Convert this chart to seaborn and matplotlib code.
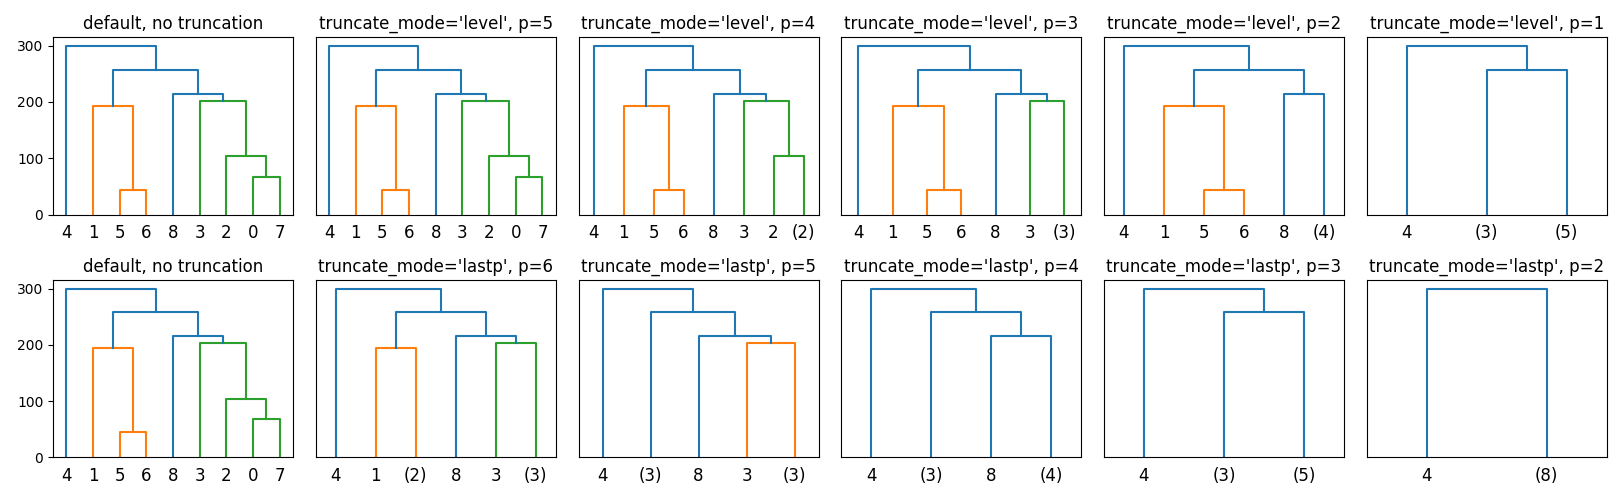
import numpy as np
import matplotlib
matplotlib.use("Agg")
import matplotlib.pyplot as plt
import seaborn as sns

n_obs = 9
merge_left = [5, 0, 2, 1, 3, 8, 12, 4]
merge_right = [6, 7, 10, 9, 11, 13, 14, 15]
merge_height = [44.4, 67.5, 103.5, 193.5, 202.4, 214.8, 257.4, 300.0]

top_modes = [None, 'level', 'level', 'level', 'level', 'level']
top_ps = [0, 5, 4, 3, 2, 1]
bottom_modes = [None, 'lastp', 'lastp', 'lastp', 'lastp', 'lastp']
bottom_ps = [0, 6, 5, 4, 3, 2]

palette = sns.color_palette("tab10")
above_color = palette[0]
cluster_colors = palette[1:]
threshold = 0.7 * max(merge_height)


def count_of(i):
    if i < n_obs:
        return 1
    return count_of(merge_left[i - n_obs]) + count_of(merge_right[i - n_obs])


def build(mode, p):
    leaves, links = [], []
    state = {"color": 0, "below": False}

    def walk(i, level, iv):
        if mode == 'lastp' and 2 * n_obs - p > i >= n_obs:
            leaves.append("(%d)" % count_of(i))
            return iv + 5.0, 10.0, 0.0
        if mode == 'level' and i > n_obs and level > p:
            leaves.append("(%d)" % count_of(i))
            return iv + 5.0, 10.0, 0.0
        if i < n_obs:
            leaves.append(str(i))
            return iv + 5.0, 10.0, 0.0
        a = merge_left[i - n_obs]
        b = merge_right[i - n_obs]
        xa, wa, ha = walk(a, level + 1, iv)
        h = merge_height[i - n_obs]
        # colour decided in-order, like scipy does
        if h >= threshold:
            c = above_color
            if state["below"]:
                state["color"] = (state["color"] + 1) % len(cluster_colors)
            state["below"] = False
        else:
            state["below"] = True
            c = cluster_colors[state["color"]]
        xb, wb, hb = walk(b, level + 1, iv + wa)
        links.append(([xa, xa, xb, xb], [ha, h, h, hb], c))
        return (xa + xb) / 2.0, wa + wb, h

    walk(2 * n_obs - 2, 0, 0.0)
    return leaves, links


def title_for(mode, p):
    if mode is None:
        return "default, no truncation"
    return "truncate_mode='%s', p=%d" % (mode, p)


fig, axes = plt.subplots(2, 6, figsize=(16.22, 4.98), dpi=100)
rows = [(top_modes, top_ps), (bottom_modes, bottom_ps)]
for r, (modes, ps) in enumerate(rows):
    for c in range(6):
        ax = axes[r, c]
        leaves, links = build(modes[c], ps[c])
        for xs, ys, col in links:
            sns.lineplot(x=xs, y=ys, sort=False, estimator=None, color=col,
                         linewidth=1.5, ax=ax)
        nleaf = len(leaves)
        ax.set_xlim(0, nleaf * 10)
        ax.set_ylim(0, max(merge_height) * 1.05)
        ax.set_xticks(np.arange(nleaf) * 10 + 5)
        ax.set_xticklabels(leaves, fontsize=12)
        for line in ax.get_xticklines():
            line.set_visible(False)
        if c == 0:
            ax.set_yticks([0, 100, 200, 300])
        else:
            ax.set_yticks([])
        ax.set_title(title_for(modes[c], ps[c]), fontsize=12)

plt.subplots_adjust(left=0.0327, right=0.9906, top=0.9251, bottom=0.0817,
                    wspace=0.0946, hspace=0.37)
plt.savefig("out.png", dpi=100)
